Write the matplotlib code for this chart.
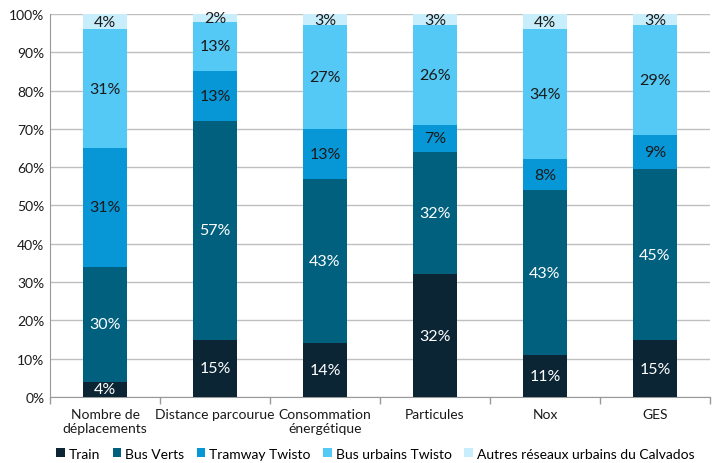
import matplotlib
matplotlib.use("Agg")
import matplotlib.pyplot as plt
import numpy as np

plt.rcParams['font.family'] = ['Lato', 'DejaVu Sans']

categories = ["Nombre de\ndéplacements", "Distance parcourue", "Consommation\nénergétique",
              "Particules", "Nox", "GES"]
series_names = ["Train", "Bus Verts", "Tramway Twisto", "Bus urbains Twisto",
                "Autres réseaux urbains du Calvados"]
train = [4, 15, 14, 32, 11, 15]
bus_verts = [30, 57, 43, 32, 43, 45]
tramway = [31, 13, 13, 7, 8, 9]
bus_urbains = [31, 13, 27, 26, 34, 29]
autres = [4, 2, 3, 3, 4, 3]

colors = ["#0b2535", "#02607f", "#0797d7", "#55c9f6", "#c8eefb"]
text_colors = ["white", "white", "#1a1a1a", "#1a1a1a", "#1a1a1a"]

data = np.array([train, bus_verts, tramway, bus_urbains, autres], dtype=float)
totals = data.sum(axis=0)
frac = data / totals * 100

fig = plt.figure(figsize=(7.15, 4.64), dpi=100)
ax = fig.add_axes([0.070, 0.142, 0.923, 0.826])

x = np.arange(len(categories))
bottom = np.zeros(len(categories))
handles = []
for i, name in enumerate(series_names):
    h = ax.bar(x, frac[i], bottom=bottom, width=0.4, color=colors[i], label=name, zorder=3)
    handles.append(h)
    for j in range(len(categories)):
        ax.text(x[j], bottom[j] + frac[i][j] / 2, f"{int(data[i][j])}%", ha='center', va='center',
                color=text_colors[i], fontsize=11.5, zorder=4)
    bottom += frac[i]

ax.set_ylim(0, 100)
ax.set_xlim(-0.5, len(categories) - 0.5)
ax.set_yticks(np.arange(0, 101, 10))
ax.set_yticklabels([f"{v}%" for v in range(0, 101, 10)], fontsize=10, color='#1a1a1a')
ax.yaxis.grid(True, color='#bfbfbf', linewidth=1, zorder=0)
ax.set_axisbelow(True)

ax.set_xticks(x)
ax.set_xticklabels(categories, fontsize=10, color='#1a1a1a', linespacing=1.15)
ax.tick_params(axis='x', length=0, pad=8)
ax.tick_params(axis='y', length=0, pad=4)
ax.set_xticks(np.arange(-0.5, len(categories), 1), minor=True)
ax.tick_params(axis='x', which='minor', length=5, color='#999999', width=1)

for s in ['top', 'right']:
    ax.spines[s].set_visible(False)
ax.spines['left'].set_color('#999999')
ax.spines['bottom'].set_color('#999999')

fig.legend(handles, series_names, loc='center', bbox_to_anchor=(0.525, 0.02), ncol=5,
           frameon=False, fontsize=10, handlelength=0.6, handleheight=0.6,
           handletextpad=0.3, columnspacing=0.9)

fig.savefig("out.png", dpi=100)
